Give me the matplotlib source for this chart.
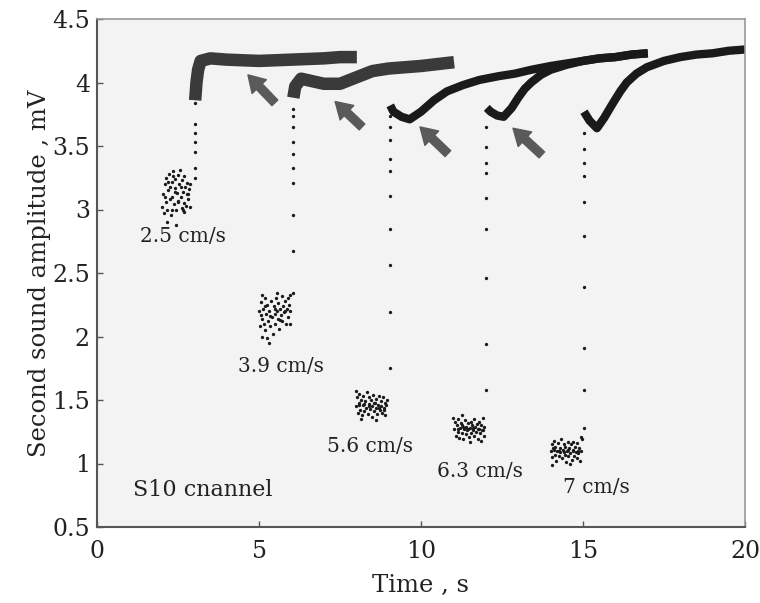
import matplotlib
matplotlib.use("Agg")
import matplotlib.pyplot as plt

plt.rcParams["font.family"] = "DejaVu Serif"

# noisy clusters before each jump (time s, amplitude mV)
cluster_25 = [(2.02, 3.02), (2.05, 3.12), (2.07, 2.97), (2.1, 3.2), (2.12, 3.06), (2.14, 3.25), (2.17, 3.0),
              (2.19, 3.15), (2.21, 3.28), (2.24, 3.08), (2.26, 3.18), (2.28, 2.96), (2.3, 3.22), (2.33, 3.1),
              (2.35, 3.3), (2.37, 3.04), (2.4, 3.17), (2.42, 3.24), (2.44, 3.0), (2.47, 3.13), (2.49, 3.27),
              (2.51, 3.07), (2.54, 3.2), (2.56, 3.31), (2.58, 3.1), (2.61, 3.01), (2.63, 3.23), (2.65, 3.14),
              (2.68, 3.05), (2.7, 3.26), (2.72, 3.18), (2.75, 3.03), (2.77, 3.12), (2.79, 3.21), (2.82, 3.08),
              (2.84, 3.16), (2.86, 3.02), (2.88, 3.2), (2.1, 3.1), (2.2, 3.22), (2.3, 3.0), (2.4, 3.14),
              (2.5, 3.06), (2.6, 3.18), (2.7, 2.98), (2.8, 3.12), (2.15, 2.9), (2.45, 2.88), (2.65, 3.0),
              (2.35, 3.26)]
cluster_39 = [(5.0, 2.2), (5.03, 2.08), (5.05, 2.27), (5.08, 2.14), (5.1, 2.0), (5.12, 2.22), (5.15, 2.1),
              (5.18, 2.3), (5.2, 2.05), (5.22, 2.18), (5.25, 2.25), (5.27, 2.12), (5.3, 1.95), (5.32, 2.2),
              (5.35, 2.08), (5.38, 2.28), (5.4, 2.15), (5.42, 2.02), (5.45, 2.24), (5.48, 2.18), (5.5, 2.1),
              (5.52, 2.3), (5.55, 2.2), (5.58, 2.14), (5.6, 2.26), (5.62, 2.06), (5.65, 2.22), (5.68, 2.17),
              (5.7, 2.32), (5.72, 2.12), (5.75, 2.24), (5.78, 2.19), (5.8, 2.28), (5.82, 2.1), (5.85, 2.22),
              (5.88, 2.3), (5.9, 2.15), (5.92, 2.25), (5.95, 2.2), (5.97, 2.33), (5.05, 2.17), (5.2, 2.24),
              (5.35, 2.16), (5.5, 2.22), (5.65, 2.13), (5.8, 2.2), (5.95, 2.1), (5.25, 1.99), (5.1, 2.33),
              (5.55, 2.34)]
cluster_56 = [(8.0, 1.45), (8.03, 1.52), (8.05, 1.4), (8.08, 1.48), (8.1, 1.55), (8.12, 1.42), (8.15, 1.5),
              (8.18, 1.38), (8.2, 1.46), (8.22, 1.53), (8.25, 1.41), (8.28, 1.49), (8.3, 1.44), (8.32, 1.56),
              (8.35, 1.39), (8.38, 1.47), (8.4, 1.52), (8.42, 1.43), (8.45, 1.5), (8.48, 1.37), (8.5, 1.45),
              (8.52, 1.54), (8.55, 1.41), (8.58, 1.48), (8.6, 1.44), (8.62, 1.51), (8.65, 1.39), (8.68, 1.46),
              (8.7, 1.53), (8.72, 1.42), (8.75, 1.49), (8.78, 1.45), (8.8, 1.4), (8.82, 1.52), (8.85, 1.44),
              (8.88, 1.48), (8.9, 1.38), (8.92, 1.46), (8.95, 1.5), (8.1, 1.46), (8.25, 1.47), (8.4, 1.45),
              (8.55, 1.48), (8.7, 1.44), (8.85, 1.42), (8.15, 1.35), (8.6, 1.34), (8.0, 1.57)]
cluster_63 = [(11.02, 1.27), (11.05, 1.33), (11.08, 1.22), (11.1, 1.3), (11.13, 1.25), (11.15, 1.35),
              (11.18, 1.2), (11.2, 1.28), (11.23, 1.32), (11.25, 1.24), (11.28, 1.3), (11.3, 1.19),
              (11.33, 1.27), (11.35, 1.34), (11.38, 1.23), (11.4, 1.29), (11.43, 1.26), (11.45, 1.32),
              (11.48, 1.21), (11.5, 1.28), (11.53, 1.33), (11.55, 1.24), (11.58, 1.3), (11.6, 1.26),
              (11.63, 1.35), (11.65, 1.22), (11.68, 1.29), (11.7, 1.25), (11.73, 1.31), (11.75, 1.19),
              (11.78, 1.27), (11.8, 1.33), (11.83, 1.24), (11.85, 1.3), (11.88, 1.26), (11.9, 1.36),
              (11.93, 1.22), (11.95, 1.29), (11.15, 1.27), (11.3, 1.29), (11.45, 1.27), (11.6, 1.28),
              (11.75, 1.27), (11.9, 1.26), (11.25, 1.38), (11.0, 1.36), (11.5, 1.17), (11.85, 1.18)]
cluster_70 = [(14.0, 1.1), (14.03, 1.15), (14.05, 1.05), (14.08, 1.12), (14.1, 1.18), (14.13, 1.07),
              (14.15, 1.13), (14.18, 1.02), (14.2, 1.1), (14.23, 1.16), (14.25, 1.06), (14.28, 1.12),
              (14.3, 1.09), (14.33, 1.19), (14.35, 1.04), (14.38, 1.11), (14.4, 1.15), (14.43, 1.07),
              (14.45, 1.13), (14.48, 1.01), (14.5, 1.1), (14.53, 1.17), (14.55, 1.06), (14.58, 1.12),
              (14.6, 1.08), (14.63, 1.15), (14.65, 1.03), (14.68, 1.11), (14.7, 1.17), (14.73, 1.06),
              (14.75, 1.13), (14.78, 1.09), (14.8, 1.04), (14.83, 1.16), (14.85, 1.08), (14.88, 1.12),
              (14.9, 1.02), (14.93, 1.1), (14.96, 1.19), (14.1, 1.11), (14.25, 1.1), (14.4, 1.09),
              (14.55, 1.11), (14.7, 1.1), (14.85, 1.1), (14.05, 0.99), (14.6, 1.0), (14.95, 1.21)]

# sparse points during each jump
drop_x = [3.02, 6.05, 9.04, 12.02, 15.02]
drop_y = [
    [3.84, 3.67, 3.60, 3.53, 3.45, 3.33, 3.25],
    [3.79, 3.74, 3.65, 3.53, 3.44, 3.33, 3.21, 2.96, 2.67, 2.34],
    [3.74, 3.65, 3.55, 3.40, 3.30, 3.11, 2.85, 2.56, 2.19, 1.75],
    [3.65, 3.49, 3.37, 3.29, 3.09, 2.85, 2.46, 1.94, 1.58],
    [3.60, 3.48, 3.37, 3.26, 3.06, 2.79, 2.39, 1.91, 1.58, 1.28],
]

# relaxation traces after each jump (centre of the dotted band)
trace_25_t = [3.03, 3.07, 3.12, 3.2, 3.5, 4.0, 5.0, 6.0, 7.0, 7.5, 8.02]
trace_25_a = [3.86, 4.0, 4.1, 4.17, 4.19, 4.18, 4.17, 4.18, 4.19, 4.2, 4.2]
trace_39_t = [6.06, 6.12, 6.3, 7.0, 7.5, 8.0, 8.5, 9.0, 10.0, 11.02]
trace_39_a = [3.88, 3.97, 4.03, 3.99, 3.99, 4.04, 4.09, 4.11, 4.13, 4.16]
trace_56_t = [9.05, 9.15, 9.4, 9.65, 10.0, 10.4, 10.8, 11.3, 11.8, 12.4, 12.9, 13.4, 14.0, 14.5, 15.0,
              15.5, 16.0, 16.5, 17.0]
trace_56_a = [3.82, 3.77, 3.73, 3.71, 3.77, 3.86, 3.93, 3.98, 4.02, 4.05, 4.07, 4.1, 4.13, 4.15, 4.17,
              4.19, 4.2, 4.22, 4.23]
trace_63_t = [12.03, 12.15, 12.35, 12.55, 12.8, 13.0, 13.2, 13.4, 13.7, 14.0, 14.5, 15.0, 15.5, 16.0,
              16.5, 17.0]
trace_63_a = [3.8, 3.77, 3.74, 3.73, 3.8, 3.88, 3.95, 4.0, 4.06, 4.1, 4.14, 4.17, 4.19, 4.2, 4.22, 4.23]
trace_70_t = [15.03, 15.2, 15.43, 15.65, 15.93, 16.15, 16.35, 16.65, 16.97, 17.5, 18.0, 18.5, 19.0,
              19.5, 20.0]
trace_70_a = [3.77, 3.7, 3.64, 3.72, 3.84, 3.93, 4.0, 4.07, 4.12, 4.17, 4.2, 4.22, 4.23, 4.25, 4.26]

speed_labels = ["2.5 cm/s", "3.9 cm/s", "5.6 cm/s", "6.3 cm/s", "7 cm/s"]
label_pos = [(2.66, 2.79), (5.68, 1.76), (8.43, 1.13), (11.82, 0.94), (15.4, 0.81)]

# arrows: (tip, tail)
arrows = [((4.66, 4.06), (5.49, 3.84)), ((7.35, 3.85), (8.18, 3.65)),
          ((9.97, 3.65), (10.83, 3.44)), ((12.84, 3.64), (13.73, 3.43))]

x_ticks = [0, 5, 10, 15, 20]
y_ticks = [0.5, 1, 1.5, 2, 2.5, 3, 3.5, 4, 4.5]
y_ticklabels = ["0.5", "1", "1.5", "2", "2.5", "3", "3.5", "4", "4.5"]

dot = "#1a1a1a"

fig = plt.figure(figsize=(7.6, 6.03), dpi=100)
ax = fig.add_axes([97 / 760, 76 / 603, 648 / 760, 508 / 603])
ax.set_facecolor("#f3f3f3")

for cl in [cluster_25, cluster_39, cluster_56, cluster_63, cluster_70]:
    ax.plot([p[0] for p in cl], [p[1] for p in cl], "o", color=dot, ms=2.4, mew=0)

for x, ys in zip(drop_x, drop_y):
    ax.plot([x] * len(ys), ys, "o", color=dot, ms=2.4, mew=0)

# noisy bands drawn as thick lines
ax.plot(trace_25_t, trace_25_a, color=dot, lw=9, alpha=0.85, solid_capstyle="butt")
ax.plot(trace_39_t, trace_39_a, color=dot, lw=9, alpha=0.85, solid_capstyle="butt")
ax.plot(trace_56_t, trace_56_a, color=dot, lw=6, solid_capstyle="butt")
ax.plot(trace_63_t, trace_63_a, color=dot, lw=6, solid_capstyle="butt")
ax.plot(trace_70_t, trace_70_a, color=dot, lw=6, solid_capstyle="butt")

for (tip, tail) in arrows:
    ax.annotate("", xy=tip, xytext=tail,
                arrowprops=dict(arrowstyle="simple,head_width=1.1,head_length=0.9,tail_width=0.45",
                                color="#5a5a5a", mutation_scale=13, shrinkA=0, shrinkB=0))

for txt, (x, y) in zip(speed_labels, label_pos):
    ax.text(x, y, txt, fontsize=14.5, ha="center", va="center", color="#222222")

ax.text(1.1, 0.79, "S10 cnannel", fontsize=16, ha="left", va="center", color="#222222")

ax.set_xlim(0, 20)
ax.set_ylim(0.5, 4.5)
ax.set_xticks(x_ticks)
ax.set_yticks(y_ticks)
ax.set_yticklabels(y_ticklabels)
ax.tick_params(direction="in", length=4, width=1, color="#555555", labelsize=17,
               labelcolor="#222222")
ax.tick_params(axis="x", pad=9)
ax.tick_params(axis="y", pad=5)

ax.set_xlabel("Time , s", fontsize=17.5, color="#222222", labelpad=8)
ax.set_ylabel("Second sound amplitude , mV", fontsize=17.5, color="#222222", labelpad=1)

for side in ["left", "bottom"]:
    ax.spines[side].set_color("#555555")
    ax.spines[side].set_linewidth(1.5)
for side in ["top", "right"]:
    ax.spines[side].set_color("#9a9a9a")
    ax.spines[side].set_linewidth(1.2)

fig.savefig("out.png", dpi=100, facecolor="white")
